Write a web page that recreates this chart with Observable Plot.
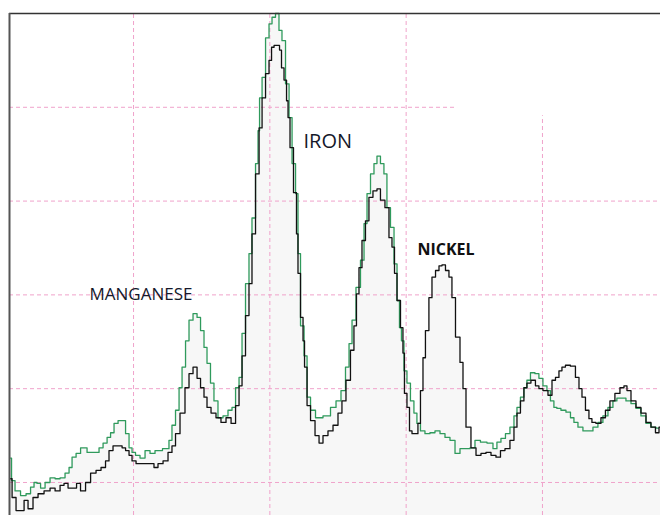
<!DOCTYPE html>
<html>
<head>
<meta charset="utf-8">
<script src="https://cdn.jsdelivr.net/npm/d3@7"></script>
<script src="https://cdn.jsdelivr.net/npm/@observablehq/plot@0.6"></script>
<style>
  html, body { margin: 0; padding: 0; background: #fff; }
  #chart svg { display: block; }
</style>
</head>
<body>
<div id="chart"></div>
<script>
// Channel (x) and counts (y)
const blackX = [109.8,112.0,115.6,118.6,120.8,124.4,128.1,131.8,136.9,140.6,144.3,147.9,150.1,153.8,157.5,158.9,163.3,166.3,170.7,174.3,178.0,180.9,183.1,186.8,190.5,192.7,195.6,197.8,200.0,203.7,208.8,213.9,216.1,219.8,223.5,227.1,229.3,232.3,235.9,239.6,241.8,245.5,247.7,250.6,252.8,255.0,258.7,262.3,266.0,269.7,273.4,276.3,278.5,280.7,283.6,285.8,288.0,291.0,293.2,295.4,298.3,300.5,302.0,304.2,306.4,307.8,309.3,311.5,313.0,313.7,315.9,318.8,320.3,321.0,324.0,324.7,326.2,328.4,331.3,335.0,337.2,340.8,344.5,348.2,351.8,354.0,357.7,360.6,362.8,364.3,366.5,368.7,371.6,373.8,377.5,379.7,382.6,386.3,388.5,390.7,392.2,394.4,397.3,398.0,399.5,401.7,403.2,405.4,408.3,409.0,412.0,412.7,415.6,417.8,420.1,423.0,425.2,427.4,430.3,432.5,434.7,437.7,441.3,442.1,445.7,449.4,453.1,456.7,460.4,464.1,467.7,470.7,474.3,478.0,480.2,482.4,485.3,487.5,489.7,493.4,496.3,498.5,502.2,505.9,508.1,511.0,513.2,515.4,518.3,522.7,525.7,527.9,530.1,533.0,535.2,537.4,541.1,544.7,547.7,551.3,555.0,558.7,560.9,563.1,566.8,570.4,574.1,577.8,581.4,584.4,586.6];
const blackY = [104,84,70,70,81,72,84,88,91,94,91,97,99,94,94,99,91,100,110,113,116,123,134,139,139,137,134,129,123,120,120,120,116,120,123,132,139,152,174,201,216,223,211,201,191,180,174,169,164,169,163,182,203,235,278,312,365,429,478,510,536,550,564,566,566,561,542,529,507,489,457,409,365,323,276,251,223,182,166,150,142,150,155,161,174,187,209,241,267,301,329,358,379,404,411,413,401,393,361,351,323,294,265,238,195,180,155,152,152,163,198,233,262,297,319,326,331,332,326,319,297,255,228,200,159,137,129,131,132,129,127,134,136,145,159,174,187,201,206,209,203,200,198,193,209,212,219,223,225,224,212,200,191,177,168,164,163,169,177,187,195,201,203,198,187,180,174,164,159,153,159];

const greenX = [109.8,111.2,114.9,119.3,123.0,125.9,128.1,130.3,133.3,136.9,140.6,144.3,147.9,151.6,153.8,156.0,159.7,162.6,164.8,167.0,173.6,175.8,179.5,181.7,184.6,186.8,190.5,192.7,195.6,197.8,200.0,202.9,206.6,210.3,213.9,217.6,224.9,227.1,229.3,232.3,234.5,236.7,239.6,241.8,245.5,247.7,250.6,252.8,255.0,257.9,260.1,263.8,267.5,271.1,273.4,276.3,278.5,280.7,283.6,285.8,288.0,291.0,291.7,293.2,295.4,298.3,300.5,302.7,305.6,307.8,310.0,313.0,315.2,317.4,320.3,321.0,324.0,326.2,328.4,331.3,335.7,342.3,346.7,350.4,354.0,357.0,359.2,361.4,365.0,368.0,370.2,372.4,375.3,377.5,379.7,382.6,384.8,387.0,390.0,392.2,394.4,395.8,397.3,399.5,401.7,404.6,406.8,409.0,412.0,415.6,419.3,423.0,426.7,430.3,434.0,437.7,441.3,445.0,448.7,452.3,456.7,461.9,465.5,467.7,471.4,474.3,478.0,480.2,482.4,485.3,487.5,489.7,492.7,496.3,498.5,502.2,504.4,507.3,509.5,511.7,515.4,519.1,522.0,524.2,527.9,531.5,535.2,538.9,542.5,546.2,549.9,553.5,555.7,559.4,563.1,566.8,570.4,574.1,577.8,581.4,585.1];
const greenY = [126,102,91,86,88,95,100,99,94,100,105,104,105,110,116,127,131,137,137,132,132,137,142,148,153,163,166,166,152,137,132,129,126,134,131,134,136,145,161,177,201,223,251,273,280,276,262,244,227,206,187,169,171,177,180,201,212,259,312,344,382,440,475,510,532,574,589,596,600,582,571,525,489,440,408,344,267,235,191,177,169,171,180,187,198,223,248,273,308,337,376,408,429,440,448,440,429,393,372,333,294,265,251,219,206,187,174,163,155,152,153,155,152,148,145,131,136,136,137,145,143,142,136,143,147,152,159,171,180,191,201,209,217,216,211,203,198,187,180,179,177,175,169,164,159,155,155,159,164,171,180,187,190,190,187,184,179,171,163,159,158];

// Labels
const labelText = ["MANGANESE", "IRON", "NICKEL"];
const labelX = [167.7, 324.7, 408.3];
const labelY = [295, 457, 342];

// Grid
const hGridValues = [100, 200, 300, 400, 500];
const hGridEnds   = [586.6, 586.6, 586.6, 586.6, 437.7];
const vGridValues = [200, 300, 400, 500];
const vGridTops   = [600, 600, 600, 491];

const xDomain = [109, 586.6];
const yDomain = [64.8, 600];

const black = blackX.map((x, i) => ({x, y: blackY[i]}));
const green = greenX.map((x, i) => ({x, y: greenY[i]}));
const hGrid = hGridValues.map((v, i) => ({v, x1: xDomain[0], x2: hGridEnds[i]}));
const vGrid = vGridValues.map((v, i) => ({v, y1: yDomain[0], y2: vGridTops[i]}));
const labels = labelText.map((t, i) => ({t, x: labelX[i], y: labelY[i]}));

const gridStyle = {stroke: "#f0a3cb", strokeWidth: 1, strokeDasharray: "4,3"};

const chart = Plot.plot({
  width: 660,
  height: 515,
  marginTop: 13,
  marginLeft: 9,
  marginRight: 0,
  marginBottom: 0,
  x: {domain: xDomain, axis: null},
  y: {domain: yDomain, axis: null},
  style: {background: "#fff"},
  marks: [
    Plot.areaY(green, {x: "x", y1: yDomain[0], y2: "y", curve: "step", fill: "#f7f7f7"}),
    Plot.areaY(black, {x: "x", y1: yDomain[0], y2: "y", curve: "step", fill: "#f7f7f7"}),
    Plot.ruleY(hGrid, {y: "v", x1: "x1", x2: "x2", ...gridStyle}),
    Plot.ruleX(vGrid, {x: "v", y1: "y1", y2: "y2", ...gridStyle}),
    Plot.line(green, {x: "x", y: "y", curve: "step", stroke: "#2f9a5c", strokeWidth: 1.3}),
    Plot.line(black, {x: "x", y: "y", curve: "step", stroke: "#111", strokeWidth: 1.3}),
    Plot.ruleY([yDomain[1]], {stroke: "#333", strokeWidth: 1.5}),
    Plot.ruleX([xDomain[0]], {stroke: "#555", strokeWidth: 2}),
    Plot.text(labels.slice(0, 1), {x: "x", y: "y", text: "t", textAnchor: "start", lineAnchor: "bottom", fontSize: 17, fill: "#15182a", fontFamily: "Open Sans"}),
    Plot.text(labels.slice(1, 2), {x: "x", y: "y", text: "t", textAnchor: "start", lineAnchor: "bottom", fontSize: 20, fill: "#15182a", fontFamily: "Open Sans"}),
    Plot.text(labels.slice(2, 3), {x: "x", y: "y", text: "t", textAnchor: "start", lineAnchor: "bottom", fontSize: 16, fontWeight: "bold", fill: "#111", fontFamily: "Open Sans"})
  ]
});
document.getElementById("chart").appendChild(chart);
</script>
</body>
</html>
